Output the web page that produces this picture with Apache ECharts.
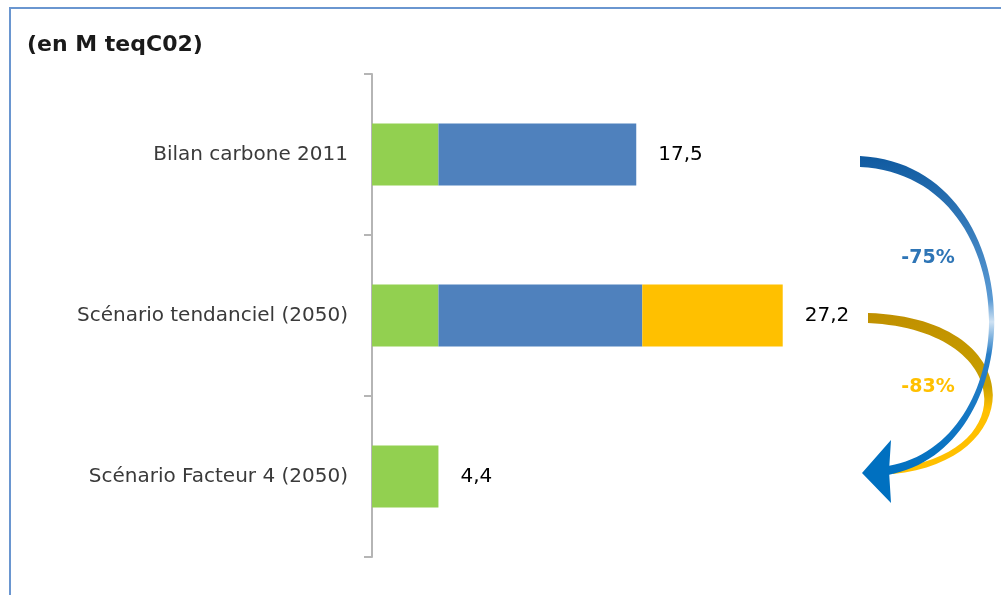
<!DOCTYPE html>
<html>
<head>
<meta charset="utf-8">
<script src="https://cdn.jsdelivr.net/npm/echarts@6/dist/echarts.min.js"></script>
<style>
  html, body { margin: 0; padding: 0; background: #fff; }
  #chart { width: 1001px; height: 595px; }
</style>
</head>
<body>
<div id="chart"></div>
<script>
const categories = ['Bilan carbone 2011', 'Scénario tendanciel (2050)', 'Scénario Facteur 4 (2050)']
const greenValues = [4.4, 4.4, 4.4]
const blueValues = [13.1, 13.5, '-']
const yellowValues = ['-', 9.3, '-']
const totals = [17.5, 27.2, 4.4]
const pctLabels = ['-75%', '-83%']

// curved arrows drawn as custom shapes
echarts.graphic.registerShape('goldArc', echarts.graphic.extendPath(
    'M868,313 C1030,318 1030,460 893,474 L893,468 C1022,455 1015,330 868,323 Z', {}))
echarts.graphic.registerShape('blueArc', echarts.graphic.extendPath(
    'M860,156 C1032,165 1036,448 888,475 L888,466 C1028,442 1026,175 860,167 Z', {}))

const chart = echarts.init(document.getElementById('chart'))

const fmt = v => String(v).replace('.', ',')

chart.setOption({
    backgroundColor: '#fff',
    animation: false,
    title: {
        text: '(en M teqC02)',
        left: 27,
        top: 34,
        padding: 0,
        textStyle: { fontFamily: 'DejaVu Sans', fontWeight: 'bold', fontSize: 22, color: '#1a1a1a' }
    },
    grid: { left: 372, right: 25, top: 74, bottom: 38 },
    xAxis: { type: 'value', min: 0, max: 40, show: false },
    yAxis: {
        type: 'category',
        inverse: true,
        data: categories,
        axisLine: { show: true, lineStyle: { color: '#b5b5b5', width: 2 } },
        axisTick: { show: true, alignWithLabel: false, inside: false, length: 8, lineStyle: { color: '#b5b5b5', width: 2 } },
        axisLabel: { margin: 24, fontFamily: 'DejaVu Sans', fontSize: 20, color: '#3a3a3a' }
    },
    series: [
        {
            name: 'total', type: 'bar', data: totals, barWidth: 62, barGap: '-100%', z: 1,
            itemStyle: { color: 'rgba(0,0,0,0)' },
            label: {
                show: true, position: 'right', distance: 22,
                formatter: p => fmt(p.value),
                fontFamily: 'DejaVu Sans', fontSize: 20, color: '#000'
            }
        },
        { name: 'vert', type: 'bar', stack: 's', data: greenValues, barWidth: 62, z: 2, itemStyle: { color: '#92D050' } },
        { name: 'bleu', type: 'bar', stack: 's', data: blueValues, barWidth: 62, z: 2, itemStyle: { color: '#4F81BD' } },
        { name: 'jaune', type: 'bar', stack: 's', data: yellowValues, barWidth: 62, z: 2, itemStyle: { color: '#FFC000' } }
    ],
    graphic: [
        {
            type: 'rect', silent: true,
            shape: { x: 10, y: 8, width: 1100, height: 700 },
            style: { fill: 'none', stroke: '#6a96d0', lineWidth: 2 }
        },
        {
            type: 'goldArc', silent: true,
            style: {
                fill: new echarts.graphic.LinearGradient(0, 0, 0, 1, [
                    { offset: 0, color: '#c09000' },
                    { offset: 0.45, color: '#c9a000' },
                    { offset: 0.6, color: '#ffc000' },
                    { offset: 1, color: '#ffc000' }
                ])
            }
        },
        {
            type: 'blueArc', silent: true,
            style: {
                fill: new echarts.graphic.LinearGradient(0, 0, 0, 1, [
                    { offset: 0, color: '#0f5aa0' },
                    { offset: 0.45, color: '#5a9ad4' },
                    { offset: 0.52, color: '#cfe2f3' },
                    { offset: 0.62, color: '#2a7fc8' },
                    { offset: 1, color: '#0070c0' }
                ])
            }
        },
        {
            type: 'polygon', silent: true,
            shape: { points: [[862, 473], [891, 440], [889, 471], [891, 503]] },
            style: { fill: '#0070c0' }
        },
        {
            type: 'text', silent: true, x: 928, y: 258,
            style: { text: pctLabels[0], align: 'center', verticalAlign: 'middle', fontFamily: 'DejaVu Sans', fontWeight: 'bold', fontSize: 19, fill: '#2e75b6' }
        },
        {
            type: 'text', silent: true, x: 928, y: 387,
            style: { text: pctLabels[1], align: 'center', verticalAlign: 'middle', fontFamily: 'DejaVu Sans', fontWeight: 'bold', fontSize: 19, fill: '#ffc000' }
        }
    ]
})
</script>
</body>
</html>
